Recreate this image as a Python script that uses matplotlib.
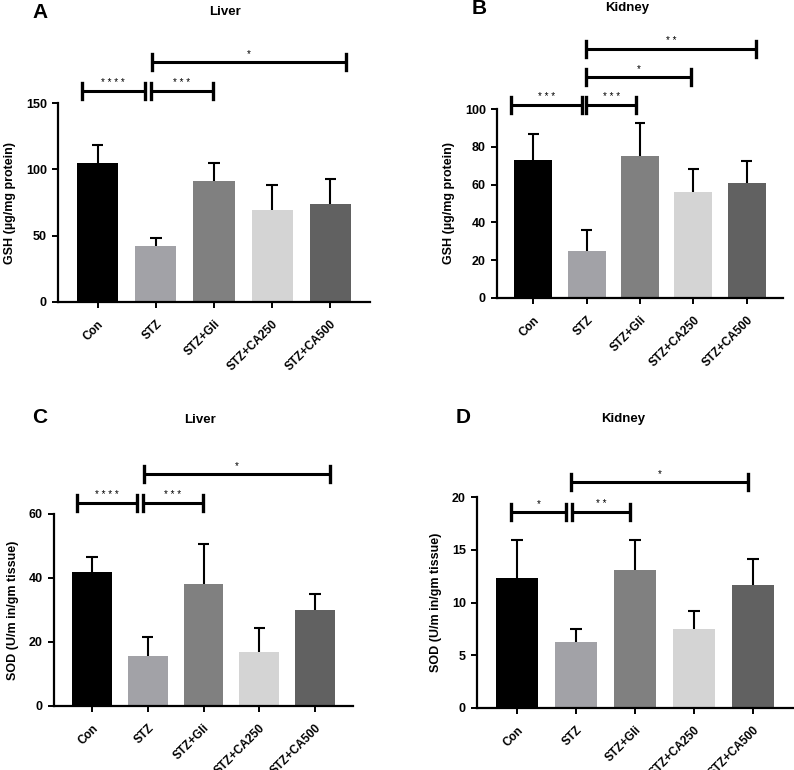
import matplotlib.pyplot as plt
import numpy as np

plt.rcParams['font.family'] = ['Liberation Sans', 'DejaVu Sans']
plt.rcParams['font.weight'] = 'bold'

groups = ['Con', 'STZ', 'STZ+Gli', 'STZ+CA250', 'STZ+CA500']
colors = ['#000000', '#a2a2a7', '#808080', '#d4d4d4', '#616161']

# GSH liver / kidney, SOD liver / kidney (mean, upper SD)
gsh_liver = [105, 42, 91, 69, 74]
gsh_liver_err = [13, 6, 14, 19, 19]
gsh_kidney = [73, 25, 75, 56, 61]
gsh_kidney_err = [14, 11, 17.5, 12, 11.5]
sod_liver = [42, 15.5, 38, 17, 30]
sod_liver_err = [4.5, 6, 12.5, 7.5, 5]
sod_kidney = [12.3, 6.3, 13.1, 7.5, 11.7]
sod_kidney_err = [3.6, 1.2, 2.8, 1.7, 2.4]

# significance brackets: (x start, x end, y, stars)
br_a = [(-0.27, 0.81, 159, '* * * *'), (0.91, 1.99, 159, '* * *'), (0.94, 4.26, 181, '*')]
br_b = [(-0.41, 0.92, 102, '* * *'), (0.99, 1.93, 102, '* * *'),
        (0.99, 2.95, 117, '*'), (0.99, 4.17, 132, '* *')]
br_c = [(-0.27, 0.81, 63.4, '* * * *'), (0.91, 1.99, 63.4, '* * *'), (0.93, 4.27, 72.5, '*')]
br_d = [(-0.10, 0.83, 18.6, '*'), (0.93, 1.92, 18.6, '* *'), (0.92, 3.92, 21.4, '*')]

W, H = 794, 770
fig = plt.figure(figsize=(W / 100, H / 100), dpi=100)


def panel(px, letter, title, letter_xy, title_xy, vals, errs, ymax, ystep, ylabel, brackets):
    l, r, b, t = px
    ax = fig.add_axes([l / W, 1 - b / H, (r - l) / W, (b - t) / H])
    x = np.arange(len(groups))
    ax.bar(x, vals, width=0.71, color=colors, zorder=2)
    tops = np.array(vals) + np.array(errs)
    ax.vlines(x, vals, tops, color='black', lw=1.5, zorder=1)
    ax.hlines(tops, x - 0.1, x + 0.1, color='black', lw=1.5, zorder=1)
    ax.set_xlim(-0.68, 4.68)
    ax.set_ylim(0, ymax)
    ax.set_yticks(np.arange(0, ymax + 0.01, ystep))
    ax.set_xticks(x)
    ax.set_xticklabels(groups, rotation=45, ha='right', rotation_mode='anchor',
                       fontsize=8.5, fontweight='bold')
    for lab in ax.get_yticklabels():
        lab.set_fontweight('bold')
    ax.tick_params(axis='both', labelsize=9, width=1.4, length=4.5, direction='out')
    ax.tick_params(axis='x', labelsize=8.5, pad=7)
    for s in ['top', 'right']:
        ax.spines[s].set_visible(False)
    for s in ['left', 'bottom']:
        ax.spines[s].set_linewidth(1.6)
    ax.set_ylabel(ylabel, fontsize=9, fontweight='bold', labelpad=7)
    hpx = (b - t) / ymax
    cap = 8 / hpx
    for x0, x1, y, st in brackets:
        ax.plot([x0, x1], [y, y], color='black', lw=2.2, clip_on=False, solid_capstyle='butt')
        ax.plot([x0, x0], [y - cap, y + cap], color='black', lw=2.4, clip_on=False)
        ax.plot([x1, x1], [y - cap, y + cap], color='black', lw=2.4, clip_on=False)
        ax.text((x0 + x1) / 2, y + 3 / hpx, st, ha='center', va='bottom',
                fontsize=7, fontweight='normal', clip_on=False)
    fig.text(letter_xy[0] / W, 1 - letter_xy[1] / H, letter, fontsize=15,
             fontweight='bold', ha='left', va='center')
    fig.text(title_xy[0] / W, 1 - title_xy[1] / H, title, fontsize=9.5,
             fontweight='bold', ha='center', va='center')
    return ax


panel((58, 370, 302, 103), 'A', 'Liver', (32, 12), (225, 12),
      gsh_liver, gsh_liver_err, 150, 50, 'GSH (µg/mg protein)', br_a)
panel((497, 783, 298, 109), 'B', 'Kidney', (472, 9), (627, 8),
      gsh_kidney, gsh_kidney_err, 100, 20, 'GSH (µg/mg protein)', br_b)
panel((54, 353, 706, 514), 'C', 'Liver', (32, 418), (200, 420),
      sod_liver, sod_liver_err, 60, 20, 'SOD (U/m in/gm tissue)', br_c)
panel((477, 793, 708, 497), 'D', 'Kidney', (456, 418), (623, 419),
      sod_kidney, sod_kidney_err, 20, 5, 'SOD (U/m in/gm tissue)', br_d)

fig.savefig('out.png', dpi=100)
